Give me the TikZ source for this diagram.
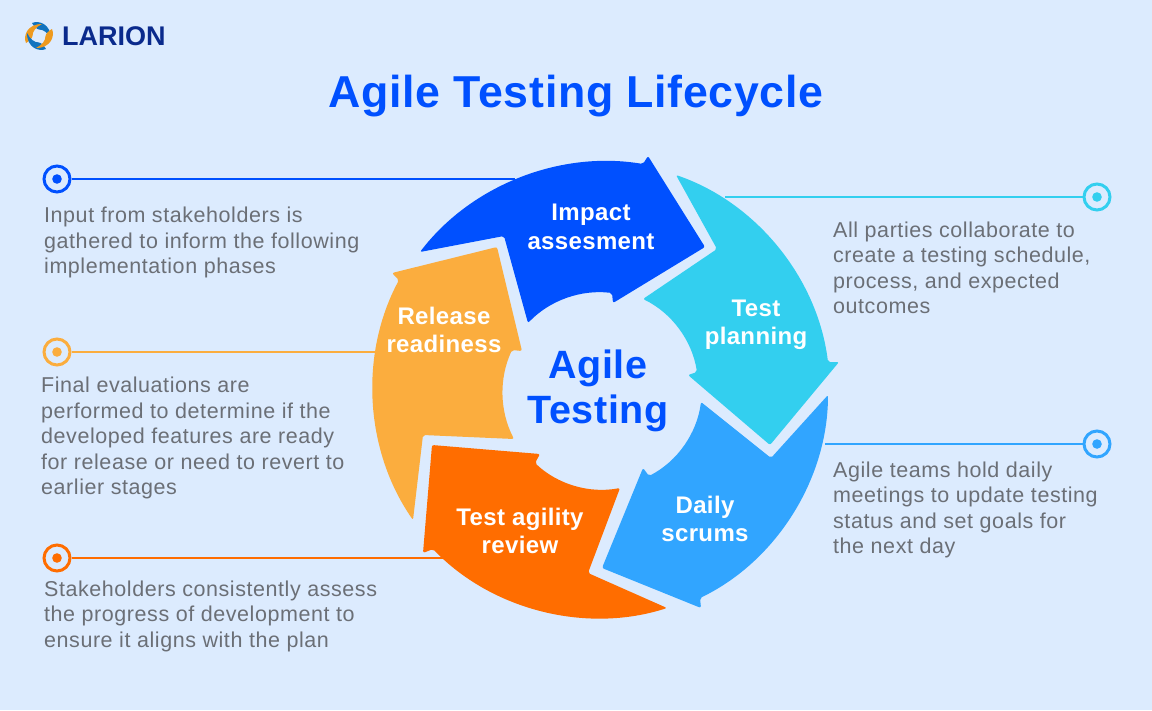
\documentclass[tikz,border=0pt]{standalone}
\usepackage{fontspec}
\setmainfont[LetterSpace=1.5]{Liberation Sans}
\newfontfamily\logofont{Liberation Sans}
\newfontfamily\descfont[LetterSpace=2.6]{Liberation Sans}
\definecolor{bgc}{HTML}{DCEBFE}
\definecolor{blueA}{HTML}{0050FF}
\definecolor{cyanA}{HTML}{33CFEF}
\definecolor{skyA}{HTML}{31A5FF}
\definecolor{orangeA}{HTML}{FF6D00}
\definecolor{yellowA}{HTML}{FBAD3E}
\definecolor{greyT}{HTML}{6B6F76}
\definecolor{navyL}{HTML}{0A2A8C}
\definecolor{logoO}{HTML}{EE9A1E}
\definecolor{logoB}{HTML}{1173BE}
\tikzset{
  seg/.style={fill=#1,draw=none,rounded corners=2pt},
  lab/.style={text=white,font=\fontsize{24}{28.5}\selectfont\bfseries,align=center,inner sep=0pt},
  desc/.style={text=greyT,font=\descfont\fontsize{21.5}{25.5}\selectfont,align=left,anchor=west,inner sep=0pt},
  dotn/.style={circle,draw=#1,fill=bgc,line width=3pt,minimum size=26pt,inner sep=0pt,
     path picture={\fill[#1] (path picture bounding box.center) circle (4.8pt);}},
  lead/.style={draw=#1,line width=1.2pt},
  outa/.style={bend left=#1,looseness=0.9},
  ina/.style={bend right=#1,looseness=0.9}
}
\begin{document}
\begin{tikzpicture}[x=1pt,y=-1pt]
\useasboundingbox (0,0) rectangle (1152,710);
\fill[bgc] (0,0) rectangle (1152,710);
% logo
\begin{scope}[shift={(39,36)}]
\foreach \a/\c in {0/logoB,90/logoO,180/logoB,270/logoO}{
  \fill[\c,rotate=\a] (-7,-13) .. controls (0,-16) and (12,-12) .. (12,3)
     .. controls (9,-3) and (5,-6.5) .. (0,-6.5) .. controls (-2.5,-7) and (-5,-9.5) .. (-7,-13) -- cycle;
}
\end{scope}
\node[inner sep=0pt,anchor=west,text=navyL,font=\logofont\fontsize{27}{27}\selectfont\bfseries] (logo) at (62,36) {LARION};
\node[inner sep=0pt,text=blueA,font=\fontsize{44.7}{44.7}\selectfont\bfseries] (title) at (576,96) {Agile Testing Lifecycle};
% leaders
\node[dotn=blueA] (d1) at (57,179) {};
\node[dotn=cyanA] (d2) at (1097,197) {};
\node[dotn=skyA] (d3) at (1097,444) {};
\node[dotn=orangeA] (d4) at (57,558) {};
\node[dotn=yellowA] (d5) at (57,352) {};
\coordinate (e1) at (515,179);
\coordinate (e2) at (725,197);
\coordinate (e3) at (825,444);
\coordinate (e4) at (450,558);
\coordinate (e5) at (385,352);
\draw[lead=blueA] (d1) -- (e1);
\draw[lead=cyanA] (d2) -- (e2);
\draw[lead=skyA] (d3) -- (e3);
\draw[lead=orangeA] (d4) -- (e4);
\draw[lead=yellowA] (d5) -- (e5);
% arrows
\fill[seg=blueA] (420,252) to[outa=31] (643,164) -- (648,156) -- (705,247) -- (613,303) -- (612,293) to[ina=26.5] (528,323) -- (504,236) -- cycle;
\fill[seg=cyanA] (676,175) to[outa=32] (828,362) -- (839,362) -- (770,445) -- (688,375) -- (697,372) to[ina=27.5] (643,299) -- (717,249) -- cycle;
\fill[seg=skyA] (828,395) to[outa=32] (700,598) -- (701,608) -- (602,568) -- (643,468) -- (649,476) to[ina=27.5] (701,402) -- (771,458) -- cycle;
\fill[seg=orangeA] (667,608) to[outa=32] (433,549) -- (423,553) -- (432,445) -- (540,454) -- (535,463) to[ina=27] (620,488) -- (588,573) -- cycle;
\fill[seg=yellowA] (413,520) to[outa=31.5] (399,280) -- (392,273) -- (497,247) -- (522,351) -- (512,350) to[ina=26] (514,439) -- (423,435) -- cycle;
% labels
\node[lab] (l1) at (591,227) {Impact\\assesment};
\node[lab] (l2) at (756,325) {Test\\planning};
\node[lab] (l3) at (705,519) {Daily\\scrums};
\node[lab] (l4) at (520,531) {Test agility\\review};
\node[lab] (l5) at (444,330) {Release\\readiness};
\node[inner sep=0pt,text=blueA,align=center,font=\fontsize{39.5}{45}\selectfont\bfseries] (c) at (598,391) {Agile\\Testing};
% text
\node[desc] (t1) at (44,242.5) {Input from stakeholders is\\gathered to inform the following\\implementation phases};
\node[desc] (t2) at (833,268) {All parties collaborate to\\create a testing schedule,\\process, and expected\\outcomes};
\node[desc] (t3) at (833,510) {Agile teams hold daily\\meetings to update testing\\status and set goals for\\the next day};
\node[desc] (t4) at (44,616) {Stakeholders consistently assess\\the progress of development to\\ensure it aligns with the plan};
\node[desc] (t5) at (41,438) {Final evaluations are\\performed to determine if the\\developed features are ready\\for release or need to revert to\\earlier stages};
\end{tikzpicture}
\end{document}
